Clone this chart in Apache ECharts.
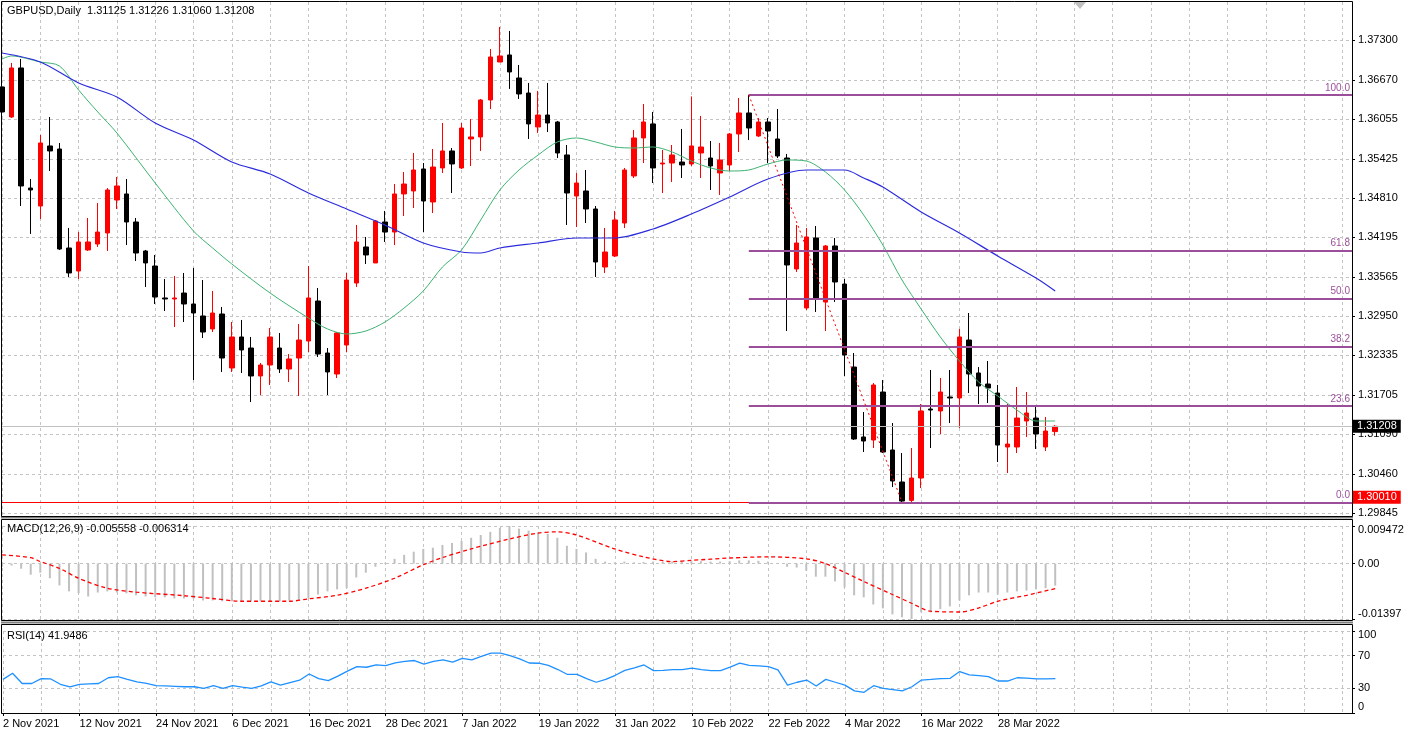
<!DOCTYPE html>
<html>
<head>
<meta charset="utf-8">
<script src="https://cdn.jsdelivr.net/npm/echarts@6/dist/echarts.min.js"></script>
<style>html,body{margin:0;padding:0;background:#fff;}#chart{width:1408px;height:735px;}</style>
</head>
<body>
<div id="chart"></div>
<script>
// ---------------- data ----------------
const symbolName = 'GBPUSD,Daily';
const firstBarDate = [2021, 10, 2]; // 2 Nov 2021 (month is 0-based)
const futureSlots = 31;
const monthNames = ['Jan','Feb','Mar','Apr','May','Jun','Jul','Aug','Sep','Oct','Nov','Dec'];

const openVals = [
1.36559,1.36086,1.36859,1.34966,1.34682,1.35629,1.35581,1.3402,1.33657,1.33989,
1.34083,1.34257,1.34777,1.34872,1.3443,1.33973,1.33736,1.33232,1.33216,1.3331,
1.33137,1.32948,1.32743,1.32979,1.32128,1.32617,1.32443,1.32002,1.32175,1.32443,
1.32112,1.32285,1.32553,1.33184,1.32364,1.32033,1.3249,1.33468,1.34036,1.33784,
1.3443,1.34272,1.34872,1.34919,1.35266,1.34746,1.35282,1.3555,1.35282,1.35739,
1.35771,1.36354,1.36953,1.37064,1.36701,1.36464,1.35928,1.36117,1.36007,1.35487,
1.3484,1.34919,1.34635,1.3372,1.33894,1.34414,1.35156,1.35755,1.35976,1.35345,
1.3536,1.35376,1.35345,1.35518,1.35439,1.35203,1.35329,1.35818,1.36149,1.35786,
1.36007,1.35739,1.35439,1.33689,1.33074,1.34178,1.33169,1.34052,1.33452,1.32143,
1.3104,1.30992,1.31749,1.30835,1.3033,1.3004,1.30393,1.31481,1.3145,1.3167,
1.31655,1.32569,1.32049,1.31875,1.31733,1.30882,1.30882,1.31292,1.31339,1.30882,
1.31125];
const closeVals = [
1.36165,1.36859,1.34998,1.34935,1.35676,1.3555,1.34004,1.33626,1.34115,1.34115,
1.34272,1.34935,1.34998,1.3443,1.33941,1.33784,1.33247,1.33216,1.33232,1.33137,
1.32995,1.32695,1.32995,1.32285,1.32617,1.32412,1.32002,1.32175,1.32617,1.32112,
1.3227,1.32569,1.33232,1.32348,1.32065,1.3268,1.33515,1.34115,1.3391,1.34446,
1.34272,1.34872,1.35029,1.3525,1.34761,1.35297,1.3555,1.35345,1.35912,1.35771,
1.36354,1.37032,1.37048,1.36796,1.36449,1.35976,1.36117,1.35991,1.35518,1.34887,
1.35045,1.34635,1.33799,1.33957,1.34462,1.3525,1.35755,1.36007,1.35282,1.3536,
1.35487,1.35329,1.35629,1.35613,1.35313,1.35408,1.35818,1.36149,1.35912,1.36007,
1.35865,1.35471,1.33752,1.34099,1.34194,1.33232,1.34052,1.33484,1.32333,1.31008,
1.30976,1.3186,1.30803,1.30346,1.3003,1.30393,1.3145,1.31465,1.31749,1.31655,
1.32617,1.32033,1.31844,1.31812,1.30913,1.30929,1.31339,1.31418,1.31087,1.31134,
1.31208];
const lowVals = [
1.36054,1.3607,1.34682,1.34241,1.34477,1.35234,1.33989,1.33563,1.33531,1.33973,
1.34036,1.33973,1.34635,1.34067,1.33815,1.33405,1.33137,1.33027,1.32774,1.32853,
1.31938,1.32601,1.32695,1.32065,1.32065,1.32049,1.31591,1.31702,1.3186,1.32049,
1.31907,1.31686,1.3238,1.32301,1.31702,1.3197,1.3238,1.33405,1.33768,1.33784,
1.34115,1.34067,1.34525,1.34651,1.34272,1.34572,1.35203,1.34887,1.35266,1.35313,
1.3555,1.36212,1.36953,1.36528,1.3637,1.35739,1.35834,1.35849,1.35439,1.34383,
1.34351,1.34414,1.33563,1.33626,1.33878,1.34335,1.35124,1.3536,1.35045,1.34887,
1.35061,1.35124,1.35313,1.35124,1.34935,1.34856,1.35234,1.35534,1.35723,1.35771,
1.3536,1.35439,1.32711,1.33642,1.33042,1.33011,1.32711,1.33169,1.32002,1.30992,
1.30803,1.30866,1.30787,1.30251,1.3001,1.30015,1.30235,1.30866,1.31087,1.3126,
1.31181,1.31733,1.3156,1.31576,1.30645,1.30472,1.30787,1.3104,1.3085,1.30819,
1.3106];
const highVals = [
1.36701,1.36938,1.37001,1.35108,1.35802,1.36086,1.35676,1.34335,1.34272,1.34493,
1.3473,1.34966,1.3514,1.35108,1.34493,1.33989,1.3391,1.33531,1.33579,1.33626,
1.33705,1.33515,1.33342,1.3309,1.32853,1.32885,1.32617,1.32207,1.32758,1.3268,
1.32348,1.32822,1.33736,1.33389,1.32443,1.32695,1.33626,1.34383,1.34194,1.34462,
1.34604,1.35029,1.35219,1.35518,1.3536,1.35581,1.35991,1.35597,1.35991,1.36054,
1.3637,1.37158,1.37505,1.37442,1.36906,1.36622,1.36496,1.36622,1.36023,1.35644,
1.35203,1.3525,1.34682,1.34335,1.34604,1.35282,1.35881,1.36291,1.36165,1.35566,
1.35644,1.35897,1.3641,1.36102,1.35707,1.35676,1.35834,1.36386,1.36435,1.3607,
1.3607,1.36212,1.35502,1.34383,1.34335,1.34367,1.34067,1.34178,1.33531,1.32364,
1.31434,1.31891,1.31938,1.3126,1.30787,1.30866,1.3156,1.32096,1.3197,1.32096,
1.32743,1.32995,1.32143,1.32238,1.3186,1.3156,1.31828,1.31749,1.31513,1.31355,
1.31226];

// moving averages: [bar index, price]
const maFast = [[0,1.37001],[1,1.37048],[4,1.36953],[6,1.3689],[8,1.36512],[10,1.36165],[12,1.35834],[16,1.35045],
[20,1.34288],[22,1.3402],[24,1.33768],[28,1.3331],[32,1.32916],[34,1.32743],[36,1.32664],[38,1.32711],[40,1.32853],
[42,1.33074],[44,1.33342],[46,1.3372],[48,1.33989],[50,1.34462],[52,1.34935],[54,1.3525],[56,1.35487],[58,1.35692],
[60,1.35755],[62,1.35692],[64,1.35613],[66,1.35597],[68,1.35613],[70,1.35534],[72,1.35392],[74,1.35282],[76,1.35234],
[78,1.3525],[80,1.35345],[82,1.35408],[84,1.35392],[86,1.35219],[88,1.34935],[90,1.3454],[92,1.34067],[94,1.33515],
[96,1.33058],[98,1.32617],[100,1.32238],[102,1.31907],[104,1.31686],[106,1.31465],[108,1.31292],[110,1.31292]];
const maSlow = [[0,1.37095],[4,1.36953],[8,1.36622],[12,1.36401],[16,1.35991],[20,1.35723],[24,1.35376],[28,1.35187],
[32,1.34887],[36,1.34635],[40,1.34383],[44,1.34099],[48,1.33957],[50,1.33941],[52,1.3402],[56,1.34099],[60,1.34178],
[64,1.34178],[68,1.3432],[72,1.34556],[76,1.34824],[80,1.35108],[84,1.3525],[88,1.3525],[90,1.35124],[92,1.34982],
[96,1.34588],[100,1.34257],[104,1.33894],[108,1.33547],[110,1.33342]];

const macdVals = [
-0.0008,-0.0005,-0.0013,-0.0028,-0.0023,-0.0037,-0.0055,-0.007,-0.0075,-0.0083,
-0.0073,-0.007,-0.0073,-0.0075,-0.008,-0.0083,-0.0085,-0.0085,-0.0088,-0.0088,
-0.0088,-0.0093,-0.0093,-0.0095,-0.0095,-0.0095,-0.0095,-0.0095,-0.0095,-0.0095,
-0.0093,-0.0092,-0.0087,-0.0078,-0.007,-0.0065,-0.0062,-0.0035,-0.0023,-0.0008,
0.0002,0.0012,0.0022,0.003,0.0037,0.004,0.0047,0.0052,0.0057,0.0065,
0.0072,0.008,0.009,0.009472,0.0088,0.0083,0.0078,0.0075,0.0065,0.0045,
0.0037,0.0028,0.0012,0.0005,0.0003,0.0005,0.0003,0.0004,0.0005,0.0004,
0.0005,0.0005,0.0006,0.0006,0.0005,0.0005,0.0006,0.0008,0.0008,0.0007,
0.0005,0.0001,-0.0008,-0.001,-0.0018,-0.0033,-0.0033,-0.0045,-0.006,-0.008,
-0.0085,-0.0103,-0.0113,-0.0128,-0.0135,-0.01397,-0.0123,-0.0123,-0.0115,-0.0108,
-0.0093,-0.008,-0.0073,-0.0073,-0.0078,-0.0073,-0.007,-0.0068,-0.0065,-0.0062,
-0.005558];
const macdSignal = [[0,0.0022],[3,0.0015],[4,0.0005],[6,-0.0012],[8,-0.0037],[11,-0.0062],[14,-0.0072],[19,-0.0081],
[22,-0.0088],[25,-0.0095],[30,-0.0095],[32,-0.0089],[35,-0.008],[38,-0.0062],[41,-0.0037],[44,-0.0003],[46,0.0015],
[49,0.0037],[53,0.0062],[56,0.0077],[58,0.008],[60,0.0072],[64,0.0037],[67,0.0017],[70,0.0005],[72,0.0008],
[76,0.0014],[80,0.0017],[84,0.0012],[86,0],[88,-0.0022],[90,-0.0045],[93,-0.0078],[95,-0.01],[97,-0.012],
[100,-0.0122],[102,-0.0112],[104,-0.0095],[107,-0.008],[110,-0.006314]];

const rsiVals = [
41,48.5,36,36,42,41.5,35,32,35,35.5,
36,43,44.3,41,38,36,33.3,33,32.5,32,
32,30,33.3,30,33.3,31.5,30,33,38,34,
37,40,47.6,42,39.4,45,51,56.6,55.8,58.6,
57.8,61,63,64,59.5,63,64.8,62,66.5,64.8,
69,73,73,70,66,61,60.7,58,53,47,
47.2,42,37.5,41,46,52,55,58.6,51.7,52,
53,53,54.6,53,51.7,51.7,56,60.7,58,57.5,
56.6,52.5,34,37.5,40.2,33,41,37.5,34,27,
25.2,33.3,30,28.5,27,32,40.2,41,42,42.3,
50.5,46.4,45.5,44.3,39,39,43,42.5,41.5,41.5,
41.9486];

const priceTicks = [1.37300,1.36670,1.36055,1.35425,1.34810,1.34195,1.33565,1.32950,1.32335,1.31705,1.31090,1.30460,1.29845];
const priceMin = 1.29794, priceMax = 1.37899;
const macdTicks = [-0.01397, 0, 0.009472];
const macdTickLabels = ['-0.01397', '0.00', '0.009472'];
const rsiTicks = [0, 30, 70, 100];
const macdLastLabel = 'MACD(12,26,9) -0.005558 -0.006314';
const rsiLastLabel = 'RSI(14) 41.9486';

const fibHigh = 1.36435, fibLow = 1.30010;
const fibStartIndex = 78, fibEndIndex = 94;
const fibLevels = [100.0, 61.8, 50.0, 38.2, 23.6, 0.0];
const bidPrice = 1.31208;
const alertPrice = 1.30010;

// ---------------- build ----------------
const categories = [];
(function () {
  const d = new Date(Date.UTC(firstBarDate[0], firstBarDate[1], firstBarDate[2]));
  while (categories.length < openVals.length) {
    const wd = d.getUTCDay();
    if (wd !== 0 && wd !== 6) categories.push(d.getUTCDate() + ' ' + monthNames[d.getUTCMonth()] + ' ' + d.getUTCFullYear());
    d.setUTCDate(d.getUTCDate() + 1);
  }
  for (let k = 0; k < futureSlots; k++) categories.push('');
})();
const lastIndex = categories.length - 1;
const candleData = openVals.map((o, i) => [o, closeVals[i], lowVals[i], highVals[i]]);
const lastBar = openVals.length - 1;
const headerText = symbolName + '  ' + [openVals[lastBar], highVals[lastBar], lowVals[lastBar], closeVals[lastBar]].map(v => v.toFixed(5)).join(' ');

const FONT = 'Liberation Sans, Arial, sans-serif';
const gridColor = '#c4c4c4';
const fibColor = '#9b4f9b';
const L = 2, W = 1350;

function xAxisFor(gridIndex, showLabels) {
  return {
    type: 'category', gridIndex: gridIndex, data: categories, boundaryGap: false,
    axisLine: { show: false },
    axisTick: { show: showLabels, length: 3, interval: (i, v) => i % 8 === 0 && v !== '', lineStyle: { color: '#000' } },
    axisLabel: { show: showLabels, interval: (i, v) => i % 8 === 0 && v !== '', align: 'left', margin: 5,
      fontSize: 11, color: '#000', fontFamily: FONT },
    splitLine: { show: true, interval: (i) => i % 4 === 0, lineStyle: { color: gridColor, type: [3, 3], width: 1 } }
  };
}
function edgeRich() {
  return {
    t: { padding: [8, 0, 0, 0], fontSize: 11, color: '#000', fontFamily: FONT },
    b: { padding: [0, 0, 10, 0], fontSize: 11, color: '#000', fontFamily: FONT },
    b2: { padding: [0, 0, 12, 0], fontSize: 11, color: '#000', fontFamily: FONT }
  };
}

const fibMarks = fibLevels.map(lv => {
  const p = fibLow + (fibHigh - fibLow) * lv / 100;
  return [
    { coord: [fibStartIndex, p], lineStyle: { color: fibColor, width: 2, type: 'solid' },
      label: { show: true, position: 'insideEndTop', formatter: lv.toFixed(1), color: fibColor, fontSize: 10, fontFamily: FONT, distance: 2 } },
    { coord: [lastIndex, p] }
  ];
});

const option = {
  animation: false,
  backgroundColor: '#ffffff',
  grid: [
    { left: L, width: W, top: 2, height: 514 },
    { left: L, width: W, top: 526, height: 93 },
    { left: L, width: W, top: 631, height: 82 }
  ],
  xAxis: [xAxisFor(0, false), xAxisFor(1, false), xAxisFor(2, true)],
  yAxis: [
    { type: 'value', gridIndex: 0, position: 'right', min: priceMin, max: priceMax,
      axisLine: { show: false },
      axisTick: { show: true, length: 3, customValues: priceTicks, lineStyle: { color: '#000' } },
      axisLabel: { customValues: priceTicks, formatter: v => v.toFixed(5), fontSize: 11, color: '#000', fontFamily: FONT, margin: 6 },
      splitLine: { show: true, lineStyle: { color: gridColor, type: [3, 3] } } },
    { type: 'value', gridIndex: 1, position: 'right', min: macdTicks[0], max: macdTicks[2],
      axisLine: { show: false },
      axisTick: { show: true, length: 3, customValues: macdTicks, lineStyle: { color: '#000' } },
      axisLabel: { customValues: macdTicks, fontSize: 11, color: '#000', fontFamily: FONT, margin: 6,
        formatter: v => {
          const k = macdTicks.findIndex(t => Math.abs(t - v) < 1e-9);
          const s = k >= 0 ? macdTickLabels[k] : String(v);
          if (k === 2) return '{t|' + s + '}';
          if (k === 0) return '{b|' + s + '}';
          return s;
        }, rich: edgeRich() },
      splitLine: { show: true, lineStyle: { color: gridColor, type: [3, 3] } } },
    { type: 'value', gridIndex: 2, position: 'right', min: 0, max: 100,
      axisLine: { show: false },
      axisTick: { show: true, length: 3, customValues: rsiTicks, lineStyle: { color: '#000' } },
      axisLabel: { customValues: rsiTicks, fontSize: 11, color: '#000', fontFamily: FONT, margin: 6,
        formatter: v => v === 100 ? '{t|100}' : (v === 0 ? '{b2|0}' : String(v)), rich: edgeRich() },
      splitLine: { show: true, lineStyle: { color: gridColor, type: [3, 3] } } }
  ],
  graphic: [
    { type: 'rect', z: 100, silent: true, shape: { x: 1.5, y: 1.5, width: 1351, height: 515 }, style: { fill: 'none', stroke: '#000', lineWidth: 1 } },
    { type: 'rect', z: 100, silent: true, shape: { x: 1.5, y: 519.5, width: 1351, height: 101 }, style: { fill: 'none', stroke: '#000', lineWidth: 1 } },
    { type: 'rect', z: 100, silent: true, shape: { x: 1.5, y: 624.5, width: 1351, height: 89 }, style: { fill: 'none', stroke: '#000', lineWidth: 1 } },
    { type: 'line', z: 99, silent: true, shape: { x1: 1, y1: 517.5, x2: 1353, y2: 517.5 }, style: { stroke: '#808080', lineWidth: 2 } },
    { type: 'line', z: 99, silent: true, shape: { x1: 1, y1: 622.5, x2: 1353, y2: 622.5 }, style: { stroke: '#808080', lineWidth: 2 } },
    { type: 'polygon', z: 101, silent: true, shape: { points: [[1074, 2], [1086, 2], [1080, 9]] }, style: { fill: '#c0c0c0' } },
    { type: 'text', z: 102, left: 7, top: 5, style: { text: headerText, fontSize: 11, fill: '#000', font: '11px ' + FONT } },
    { type: 'text', z: 102, left: 7, top: 523, style: { text: macdLastLabel, fontSize: 11, fill: '#000', font: '11px ' + FONT } },
    { type: 'text', z: 102, left: 7, top: 630, style: { text: rsiLastLabel, fontSize: 11, fill: '#000', font: '11px ' + FONT } }
  ],
  series: [
    { type: 'candlestick', name: 'GBPUSD', xAxisIndex: 0, yAxisIndex: 0, data: candleData, barWidth: 5,
      itemStyle: { color: '#ff0000', color0: '#000000', borderColor: '#ff0000', borderColor0: '#000000', borderWidth: 1 },
      markLine: {
        silent: true, symbol: ['none', 'none'], animation: false, precision: 5,
        data: [
          { yAxis: bidPrice, lineStyle: { color: '#c0c0c0', width: 1, type: 'solid' },
            label: { show: true, position: 'end', formatter: bidPrice.toFixed(5), color: '#fff', backgroundColor: '#000',
              padding: [1, 4, 1, 4], fontSize: 11, fontFamily: FONT, distance: 1 } },
          { yAxis: alertPrice, lineStyle: { color: '#ff0000', width: 1, type: 'solid' },
            label: { show: true, position: 'end', formatter: alertPrice.toFixed(5), color: '#fff', backgroundColor: '#ff0000',
              padding: [1, 4, 1, 4], fontSize: 11, fontFamily: FONT, distance: 1, offset: [0, -5] } },
          ...fibMarks,
          [ { coord: [fibStartIndex, fibHigh], lineStyle: { color: '#ff0000', width: 1, type: [2, 3] }, label: { show: false } },
            { coord: [fibEndIndex, fibLow] } ]
        ]
      } },
    { type: 'line', name: 'MA fast', xAxisIndex: 0, yAxisIndex: 0, data: maFast, symbol: 'none', smooth: 0.3,
      lineStyle: { color: '#3cb371', width: 1 }, z: 3 },
    { type: 'line', name: 'MA slow', xAxisIndex: 0, yAxisIndex: 0, data: maSlow, symbol: 'none', smooth: 0.3,
      lineStyle: { color: '#2b2bdc', width: 1.2 }, z: 3 },
    { type: 'bar', name: 'MACD', xAxisIndex: 1, yAxisIndex: 1, data: macdVals, barWidth: 2,
      itemStyle: { color: '#c0c0c0' } },
    { type: 'line', name: 'Signal', xAxisIndex: 1, yAxisIndex: 1, data: macdSignal, symbol: 'none', smooth: 0.3,
      lineStyle: { color: '#ff0000', width: 1.3, type: [4, 3] }, z: 3 },
    { type: 'line', name: 'RSI', xAxisIndex: 2, yAxisIndex: 2, data: rsiVals, symbol: 'none',
      lineStyle: { color: '#1e90ff', width: 1.3 } }
  ]
};

const chart = echarts.init(document.getElementById('chart'), null, { renderer: 'canvas' });
chart.setOption(option);
</script>
</body>
</html>
